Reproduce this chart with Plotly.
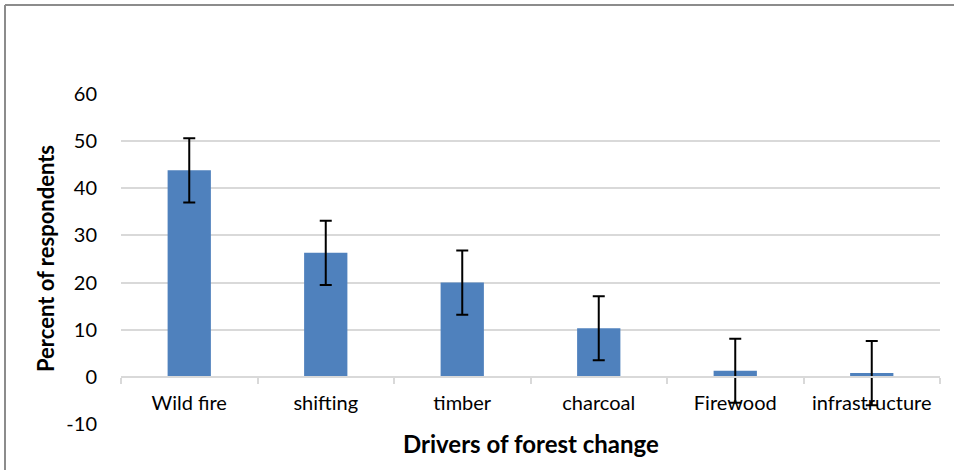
import plotly.graph_objects as go

categories = ["Wild fire", "shifting", "timber", "charcoal", "Firewood", "infrastructure"]
values = [43.8, 26.3, 20.0, 10.3, 1.3, 0.8]
errors = [6.8, 6.8, 6.8, 6.8, 6.8, 6.8]
y_ticks = [-10, 0, 10, 20, 30, 40, 50, 60]
y_tick_labels = ["-10", "0", "10", "20", "30", "40", "50", "60"]

W, H = 954, 470
L, R, T, B = 121, 14, 94, 46
FONT = "Lato, Carlito, Calibri, sans-serif"

fig = go.Figure()
fig.add_trace(go.Bar(
    x=categories, y=values, width=0.317,
    marker=dict(color="#4F81BD", line=dict(width=0)),
    error_y=dict(type="data", array=errors, visible=True,
                 color="black", thickness=2, width=6),
))

ymin, ymax = -10, 60
zero_pos = (0 - ymin) / (ymax - ymin)

fig.update_layout(
    width=W, height=H,
    margin=dict(l=L, r=R, t=T, b=B),
    paper_bgcolor="white", plot_bgcolor="white",
    showlegend=False,
    font=dict(family=FONT, size=20, color="black"),
    xaxis=dict(
        anchor="free", position=zero_pos,
        showline=True, linecolor="#D9D9D9", linewidth=2,
        ticks="outside", tickson="boundaries", ticklen=6,
        tickcolor="#D9D9D9", tickwidth=2,
        tickfont=dict(size=20, family=FONT),
        ticklabelstandoff=8,
        showgrid=False, zeroline=False,
    ),
    yaxis=dict(
        range=[ymin, ymax], tickvals=y_ticks, ticktext=y_tick_labels,
        showgrid=True, gridcolor="#D9D9D9", gridwidth=2,
        zeroline=False, showline=False,
        tickfont=dict(size=20, family=FONT),
        ticks="", ticklabelstandoff=23,
    ),
    bargap=0.5,
)

plot_w = W - L - R
plot_h = H - T - B

def px_x(px):
    return (px - L) / plot_w

def px_y(py):
    return (H - B - py) / plot_h

fig.add_annotation(
    text="<b>Drivers of forest change</b>", xref="paper", yref="paper",
    x=0.5, y=px_y(443), showarrow=False, xanchor="center", yanchor="middle",
    font=dict(size=24, family=FONT, color="black"),
)
fig.add_annotation(
    text="<b>Percent of respondents</b>", xref="paper", yref="paper",
    x=px_x(45), y=0.5, showarrow=False, textangle=-90,
    xanchor="center", yanchor="middle",
    font=dict(size=22, family=FONT, color="black"),
)

# outer chart border (left and top edges visible)
fig.add_shape(type="line", xref="paper", yref="paper",
              x0=px_x(5), x1=px_x(5), y0=px_y(472), y1=px_y(5),
              line=dict(color="#8C8C8C", width=2))
fig.add_shape(type="line", xref="paper", yref="paper",
              x0=px_x(5), x1=px_x(956), y0=px_y(5), y1=px_y(5),
              line=dict(color="#8C8C8C", width=2))

fig.write_html(
    "out.html",
    config={"displayModeBar": False},
    post_script="document.body.style.margin='0';document.body.style.overflow='hidden';",
)
